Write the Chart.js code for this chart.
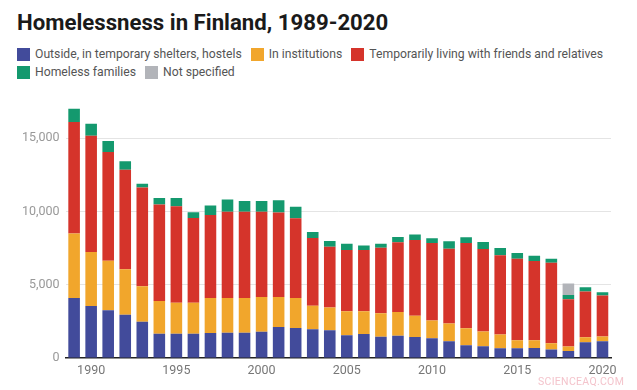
<!DOCTYPE html>
<html>
<head>
<meta charset="utf-8">
<script src="https://cdn.jsdelivr.net/npm/chart.js@4"></script>
<style>
  body { margin: 0; width: 637px; height: 390px; background: #fff; overflow: hidden; font-family: Roboto, sans-serif; position: relative; }
  #title { position: absolute; left: 17px; top: 8px; font-size: 22.2px; font-weight: 700; color: #1a1a1a; line-height: 28px; white-space: nowrap; }
  #legend { position: absolute; left: 17px; top: 45px; font-size: 12.2px; color: #555; }
  .row { display: flex; height: 18px; align-items: center; white-space: nowrap; }
  .item { display: flex; align-items: center; margin-right: 9px; }
  .sw { width: 13px; height: 13px; margin-right: 5px; }
  #wrap { position: absolute; left: 0; top: 88px; width: 637px; height: 302px; }
  #wm { position: absolute; left: 538px; top: 375px; font-size: 10.5px; color: #f4c4cc; letter-spacing: 0.3px; }
</style>
</head>
<body>
<div id="title">Homelessness in Finland, 1989-2020</div>
<div id="legend"></div>
<div id="wrap"><canvas id="chart"></canvas></div>
<div id="wm">SCIENCEAQ.COM</div>
<script>
  // Categories
  const years = [
    "1989", "1990", "1991", "1992", "1993", "1994", "1995", "1996",
    "1997", "1998", "1999", "2000", "2001", "2002", "2003", "2004",
    "2005", "2006", "2007", "2008", "2009", "2010", "2011", "2012",
    "2013", "2014", "2015", "2016", "2017", "2018", "2019", "2020",
  ];

  // Series
  const outside = [
    4100, 3550, 3260, 2950, 2480, 1650, 1650, 1650, 1700, 1720, 1720, 1790,
    2120, 2050, 1960, 1900, 1560, 1630, 1450, 1520, 1430, 1340, 1140, 870,
    800, 670, 670, 690, 580, 470, 1070, 1140,
  ];
  const institutions = [
    4400, 3690, 3370, 3100, 2410, 2240, 2120, 2120, 2400, 2370, 2370, 2380,
    2050, 2040, 1610, 1540, 1630, 1560, 1610, 1610, 1460, 1210, 1210, 1160,
    1010, 940, 540, 520, 420, 310, 340, 330,
  ];
  const friends = [
    7600, 7920, 7420, 6790, 6750, 6580, 6590, 5790, 5650, 5890, 5890, 5810,
    5750, 5440, 4620, 4150, 4180, 4180, 4460, 4770, 5160, 5290, 5110, 5810,
    5630, 5400, 5560, 5400, 5500, 3220, 3130, 2800,
  ];
  const families = [
    900, 830, 750, 580, 240, 450, 560, 380, 650, 830, 740, 740,
    840, 790, 410, 400, 420, 310, 270, 360, 380, 330, 510, 400,
    470, 490, 400, 360, 270, 290, 280, 220,
  ];
  const notSpecified = [
    null, null, null, null, null, null, null, null, null, null, null, null,
    null, null, null, null, null, null, null, null, null, null, null, null,
    null, null, null, null, null, 800, null, null,
  ];

  // Tick labels
  const yTicks = [0, 5000, 10000, 15000];
  const xTickYears = ["1990", "1995", "2000", "2005", "2010", "2015", "2020"];

  const series = [
    { label: "Outside, in temporary shelters, hostels", data: outside, color: "#424b9b" },
    { label: "In institutions", data: institutions, color: "#f1a62c" },
    { label: "Temporarily living with friends and relatives", data: friends, color: "#d5342b" },
    { label: "Homeless families", data: families, color: "#14996e" },
    { label: "Not specified", data: notSpecified, color: "#b2b4b9" },
  ];

  // Legend, two rows like the original
  const legend = document.getElementById("legend");
  [[0, 1, 2], [3, 4]].forEach((idx) => {
    const row = document.createElement("div");
    row.className = "row";
    idx.forEach((i) => {
      row.innerHTML += `<div class="item"><div class="sw" style="background:${series[i].color}"></div>${series[i].label}</div>`;
    });
    legend.appendChild(row);
  });

  new Chart(document.getElementById("chart"), {
    type: "bar",
    data: {
      labels: years,
      datasets: series.map((s) => ({
        label: s.label,
        data: s.data,
        backgroundColor: s.color,
        borderWidth: 0,
        categoryPercentage: 0.68,
        barPercentage: 1,
      })),
    },
    options: {
      responsive: true,
      maintainAspectRatio: false,
      animation: false,
      layout: { padding: { left: 16, right: 26, top: 8, bottom: 7 } },
      plugins: {
        legend: { display: false },
        tooltip: { enabled: false },
      },
      scales: {
        x: {
          stacked: true,
          grid: { display: false, drawTicks: false },
          border: { display: true, color: "#222", width: 1.5 },
          ticks: {
            autoSkip: false,
            maxRotation: 0,
            padding: 5,
            color: "#777",
            font: { family: "Roboto", size: 12.5 },
            callback: function (value) {
              const y = this.getLabelForValue(value);
              return xTickYears.includes(y) ? y : "";
            },
          },
        },
        y: {
          stacked: true,
          min: 0,
          max: 17500,
          afterBuildTicks: (scale) => {
            scale.ticks = yTicks.map((v) => ({ value: v }));
          },
          grid: {
            drawTicks: false,
            color: (ctx) => (ctx.tick && ctx.tick.value === 0 ? "rgba(0,0,0,0)" : "#e4e4e4"),
          },
          border: { display: false },
          ticks: {
            padding: 6,
            color: "#999",
            font: { family: "Roboto", size: 12.5 },
            callback: (v) => v.toLocaleString("en-US"),
          },
        },
      },
    },
  });
</script>
</body>
</html>
